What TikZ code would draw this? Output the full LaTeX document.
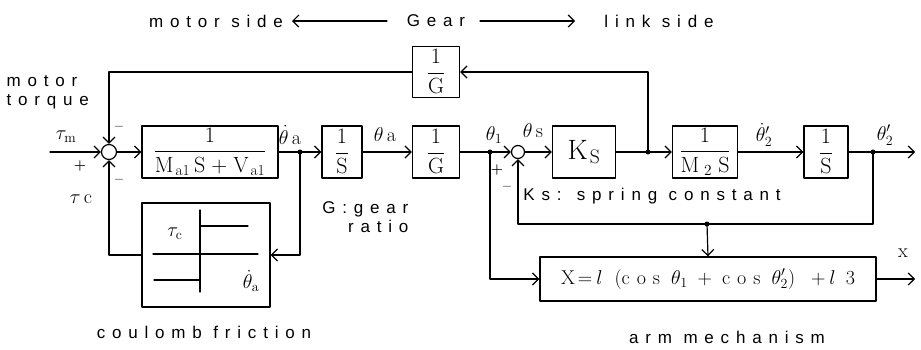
\RequirePackage{fix-cm}
\documentclass[tikz,border=0pt]{standalone}
\usepackage{amsmath,amssymb}
\usepackage{fontspec}
\newfontfamily\lblfont{Liberation Sans}[LetterSpace=40]
\usetikzlibrary{positioning, calc, arrows.meta}

\newcommand{\hs}[1]{\hspace{#1pt}}

\tikzset{
  blk/.style={draw, line width=1.4pt, inner sep=0pt, minimum height=52pt, font=\fontsize{22}{25}\selectfont},
  lbl/.style={font=\fontsize{17}{19}\selectfont\lblfont, inner sep=0pt},
  mth/.style={font=\fontsize{20}{22}\selectfont, inner sep=0pt},
  sgn/.style={font=\fontsize{14}{16}\selectfont\bfseries, inner sep=0pt},
  sumc/.style={draw, circle, line width=1.2pt, minimum size=15pt, inner sep=0pt},
}

\begin{document}
\begin{tikzpicture}[x=1pt,y=-1pt, line width=1.2pt, line cap=round, line join=round,
  >={Straight Barb[length=6pt,width=12pt]}]

\useasboundingbox (0,0) rectangle (921,349);

% gear banner
\node[lbl] (ms) at (216,21) {motor side};
\node[lbl] (gear) at (436,21) {Gear};
\node[lbl] (ls) at (659,21) {link side};
\draw[->] (387,21) -- (292,21);
\draw[->] (480,21) -- (575,21);

% blocks
\node[sumc] (sum1) at (109,152) {};
\node[blk, minimum width=136pt] (ma) at (210,152)
  {$\dfrac{1}{\mathrm{M}\hs{2}{}_{\mathrm{a1}}\hs{4}\mathrm{S}\hs{6}{+}\hs{6}\mathrm{V}\hs{2}{}_{\mathrm{a1}}}$};
\node[blk, minimum width=40pt] (int1) at (342,152) {$\dfrac{1}{\mathrm{S}}$};
\node[blk, minimum width=47pt] (gr) at (436,152) {$\dfrac{1}{\mathrm{G}}$};
\node[sumc, minimum size=13pt] (sum2) at (518,152) {};
\node[blk, minimum width=63pt, font=\fontsize{28}{30}\selectfont] (ks) at (584,152) {$\mathrm{K}\hs{2}{}_{\mathrm{S}}$};
\node[blk, minimum width=65pt] (m2) at (705,152) {$\dfrac{1}{\mathrm{M}\hs{5}{}_{2}\hs{6}\mathrm{S}}$};
\node[blk, minimum width=44pt] (int2) at (826,152) {$\dfrac{1}{\mathrm{S}}$};
\node[blk, minimum width=47pt, minimum height=51pt] (grt) at (436,72) {$\dfrac{1}{\mathrm{G}}$};
\node[blk, minimum width=128pt, minimum height=104pt] (cf) at (206,255) {};
\node[blk, minimum width=336pt, minimum height=44pt, font=\fontsize{20}{23}\selectfont] (arm) at (708,279)
  {$\mathrm{X}\hs{3}{=}\hs{4}l\hs{12}(\mathrm{c}\hs{7}\mathrm{o}\hs{7}\mathrm{s}\hs{11}\theta_1\hs{10}{+}\hs{10}\mathrm{c}\hs{7}\mathrm{o}\hs{7}\mathrm{s}\hs{11}\theta'_2)\hs{16}{+}\hs{4}l\hs{10}3$};

% branch points
\coordinate (tin) at (50,152);
\coordinate (ja) at (300,152);
\coordinate (j1) at (490,152);
\coordinate (jk) at (648,152);
\coordinate (j2) at (873,152);
\coordinate (yout) at (915,152);
\coordinate (fb) at (707,224);
\coordinate (xout) at (915,279);

% forward path
\draw[->] (tin) -- (sum1.west);
\draw[->] (sum1.east) -- (ma.west);
\draw (ma.east) -- (ja);
\draw[->] (ja) -- (int1.west);
\draw[->] (int1.east) -- (gr.west);
\draw (gr.east) -- (j1);
\draw[->] (j1) -- (sum2.west);
\draw[->] (sum2.east) -- (ks.west);
\draw (ks.east) -- (jk);
\draw[->] (jk) -- (m2.west);
\draw[->] (m2.east) -- (int2.west);
\draw (int2.east) -- (j2);
\draw[->] (j2) -- (yout);

% feedback paths
\draw[->] (jk) |- (grt.east);
\draw[->] (grt.west) -| (sum1.north);
\draw[->] (ja) |- (cf.east);
\draw[->] (cf.west) -| (sum1.south);
\draw (j2) |- (fb);
\draw[->] (fb) -| (sum2.south);
\draw[->] (fb) -- (arm.north);
\draw[->] (j1) |- (arm.west);
\draw[->] (arm.east) -- (xout);

\fill (ja) circle (2.5pt);
\fill (j1) circle (2.5pt);
\fill (jk) circle (2.5pt);
\fill (j2) circle (2.5pt);
\fill (fb) circle (2.5pt);

% coulomb friction curve
\draw (200,210) -- (200,292);
\draw (153,254) -- (258,254);
\draw (200,226) -- (248,226);
\draw (154,280) -- (200,280);
\node[mth] at (175,234) {$\tau_{\mathrm{c}}$};
\node[mth] at (251,281) {$\dot{\theta}_{\mathrm{a}}$};

% signal labels
\node[mth] (ltm) at (66,137) {$\tau_{\mathrm{m}}$};
\node[mth] (ltc) at (81,199) {$\tau\,\mathrm{c}$};
\node[mth] (lta) at (290,135) {$\dot{\theta}\,\mathrm{a}$};
\node[mth] (lth) at (385,135) {$\theta\,\mathrm{a}$};
\node[mth] (lt1) at (494,135) {$\theta_{1}$};
\node[mth] (lts) at (533,131) {$\theta\,\mathrm{s}$};
\node[mth] (ltd) at (764,135) {$\dot{\theta}'_{2}$};
\node[mth] (lt2) at (885,135) {$\theta'_{2}$};
\node[mth] (lx) at (903,253) {x};

\node[sgn] at (80,166) {+};
\node[sgn] at (119,128) {--};
\node[sgn] at (119,181) {--};
\node[sgn] at (497,170) {+};
\node[sgn] at (507,188) {--};

% annotations
\node[lbl, align=left, anchor=west] (mt) at (6,92) {motor\\torque};
\node[lbl, align=right, anchor=east] (gratio) at (409,217) {G:gear\\ratio};
\node[lbl] (kst) at (652,196) {Ks: spring constant};
\node[lbl] (cft) at (204,332) {coulomb friction};
\node[lbl] (amt) at (727,337) {arm mechanism};

\end{tikzpicture}
\end{document}
